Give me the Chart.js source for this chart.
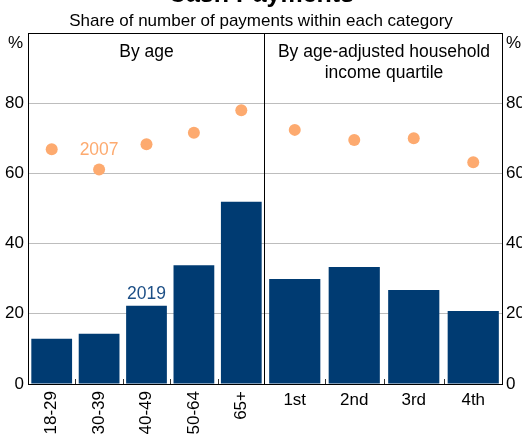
<!DOCTYPE html>
<html>
<head>
<meta charset="utf-8">
<script src="https://cdn.jsdelivr.net/npm/chart.js@4"></script>
<style>
  html, body { margin: 0; padding: 0; background: #fff; }
  #wrap { position: relative; width: 522px; height: 434px; overflow: hidden; font-family: Arial, "Liberation Sans", sans-serif; }
  #wrap canvas { position: absolute; top: 0; }
  #cv-age { left: 0; }
  #cv-inc { left: 265px; }
  .title { position: absolute; left: 0; width: 522px; text-align: center; color: #000; white-space: nowrap; }
  #t-main { top: -20px; font-size: 25px; font-weight: bold; line-height: 26px; }
  #t-sub  { top: 11px; font-size: 17px; line-height: 19px; }
</style>
</head>
<body>
<div id="wrap">
  <canvas id="cv-age" width="266" height="434"></canvas>
  <canvas id="cv-inc" width="257" height="434"></canvas>
  <div class="title" id="t-main">Cash Payments</div>
  <div class="title" id="t-sub">Share of number of payments within each category</div>
</div>
<script>
'use strict';
// ─── Data ────────────────────────────────────────────────────────────────
const ageLabels  = ['18-29', '30-39', '40-49', '50-64', '65+'];
const age2019    = [12.9, 14.3, 22.3, 33.8, 51.9];
const age2007    = [66.9, 61.1, 68.3, 71.6, 78.0];

const incLabels  = ['1st', '2nd', '3rd', '4th'];
const inc2019    = [29.9, 33.3, 26.8, 20.8];
const inc2007    = [72.4, 69.5, 70.0, 63.2];

const yTicks     = [0, 20, 40, 60, 80];

// ─── Styling ─────────────────────────────────────────────────────────────
const FONT   = 'Arial, "Liberation Sans", sans-serif';
const NAVY   = '#003b72';
const ORANGE = '#fdaa6f';
const GRID   = '#bdbdbd';

function yScale(position) {
  return {
    position,
    min: 0, max: 100,
    afterBuildTicks: s => { s.ticks = yTicks.map(v => ({ value: v })); },
    afterFit: s => { s.width = position === 'left' ? 28 : 19; s.paddingTop = 0; s.paddingBottom = 0; },
    grid:   { color: c => (c.tick && c.tick.value === 0 ? 'transparent' : GRID), drawTicks: false },
    border: { display: false },
    ticks:  { color: '#000', font: { family: FONT, size: 17 }, padding: position === 'left' ? 4 : 3 },
  };
}

function xScale(rotate) {
  return {
    afterFit: s => { s.height = 50; s.paddingLeft = 0; s.paddingRight = 0; },
    grid:   { display: false, drawTicks: false },
    border: { display: false },
    ticks:  {
      color: '#000', font: { family: FONT, size: 17 }, padding: rotate ? 7 : 6,
      autoSkip: false, maxRotation: rotate ? 90 : 0, minRotation: rotate ? 90 : 0,
    },
  };
}

// frame, boundary ticks and in-plot labels
function framePlugin(opts) {
  return {
    id: 'frame',
    afterDatasetsDraw(chart) {
      const { ctx, chartArea: a, scales } = chart;
      const x = scales.x, y = scales.y;
      ctx.save();
      ctx.strokeStyle = '#000';
      ctx.lineWidth = 1;
      ctx.beginPath();
      ctx.moveTo(a.left, a.top + 0.5); ctx.lineTo(a.right, a.top + 0.5);
      ctx.moveTo(a.left, a.bottom + 0.5); ctx.lineTo(a.right, a.bottom + 0.5);
      if (opts.leftLine)  { ctx.moveTo(a.left + 0.5, a.top); ctx.lineTo(a.left + 0.5, a.bottom + 1); }
      if (opts.rightLine) { ctx.moveTo(a.right - 0.5, a.top); ctx.lineTo(a.right - 0.5, a.bottom + 1); }
      ctx.stroke();

      // small ticks between categories
      const n = chart.data.labels.length;
      const step = x.getPixelForValue(1) - x.getPixelForValue(0);
      ctx.strokeStyle = '#333';
      ctx.beginPath();
      for (let i = 0; i < n - 1; i++) {
        const px = Math.round(x.getPixelForValue(i) + step / 2) + 0.5;
        ctx.moveTo(px, a.bottom - 5); ctx.lineTo(px, a.bottom);
      }
      ctx.stroke();

      ctx.font = `17.5px ${FONT}`;
      ctx.textAlign = 'center';
      ctx.textBaseline = 'middle';
      ctx.fillStyle = '#000';
      const cx = (a.left + a.right) / 2;
      opts.heading.forEach((line, i) => ctx.fillText(line, cx, a.top + 19 + i * 21));

      (opts.notes || []).forEach(nt => {
        ctx.fillStyle = nt.color;
        ctx.fillText(nt.text, x.getPixelForValue(nt.at), y.getPixelForValue(nt.value));
      });

      if (opts.pct) {
        ctx.font = `17px ${FONT}`;
        ctx.fillStyle = '#000';
        ctx.textAlign = opts.pct === 'left' ? 'right' : 'left';
        const px = opts.pct === 'left' ? a.left - 5 : a.right + 3;
        ctx.fillText('%', px, a.top + 10);
      }
      ctx.restore();
    },
  };
}

function makeChart(id, labels, bars, dots, side, rotate, plug, padding) {
  return new Chart(document.getElementById(id), {
    data: {
      labels,
      datasets: [
        {
          type: 'line', label: '2007', data: dots,
          showLine: false, pointRadius: 6, pointHoverRadius: 6,
          pointBackgroundColor: ORANGE, pointBorderWidth: 0, borderColor: ORANGE,
        },
        {
          type: 'bar', label: '2019', data: bars,
          backgroundColor: NAVY, borderWidth: 0,
          categoryPercentage: 1, barPercentage: 0.86,
        },
      ],
    },
    options: {
      responsive: false, animation: false,
      layout: { padding, autoPadding: false },
      plugins: { legend: { display: false }, title: { display: false }, tooltip: { enabled: false } },
      scales: { x: xScale(rotate), y: yScale(side) },
    },
    plugins: [plug],
  });
}

makeChart('cv-age', ageLabels, age2019, age2007, 'left', true,
  framePlugin({
    leftLine: true, rightLine: true, pct: 'left',
    heading: ['By age'],
    notes: [
      { text: '2007', at: 1, value: 66.5, color: ORANGE },
      { text: '2019', at: 2, value: 25.6, color: '#1d4f86' },
    ],
  }),
  { top: 33, left: 0, right: 1, bottom: 0 });

makeChart('cv-inc', incLabels, inc2019, inc2007, 'right', false,
  framePlugin({
    leftLine: false, rightLine: true, pct: 'right',
    heading: ['By age-adjusted household', 'income quartile'],
  }),
  { top: 33, left: 0, right: 0, bottom: 0 });
</script>
</body>
</html>
